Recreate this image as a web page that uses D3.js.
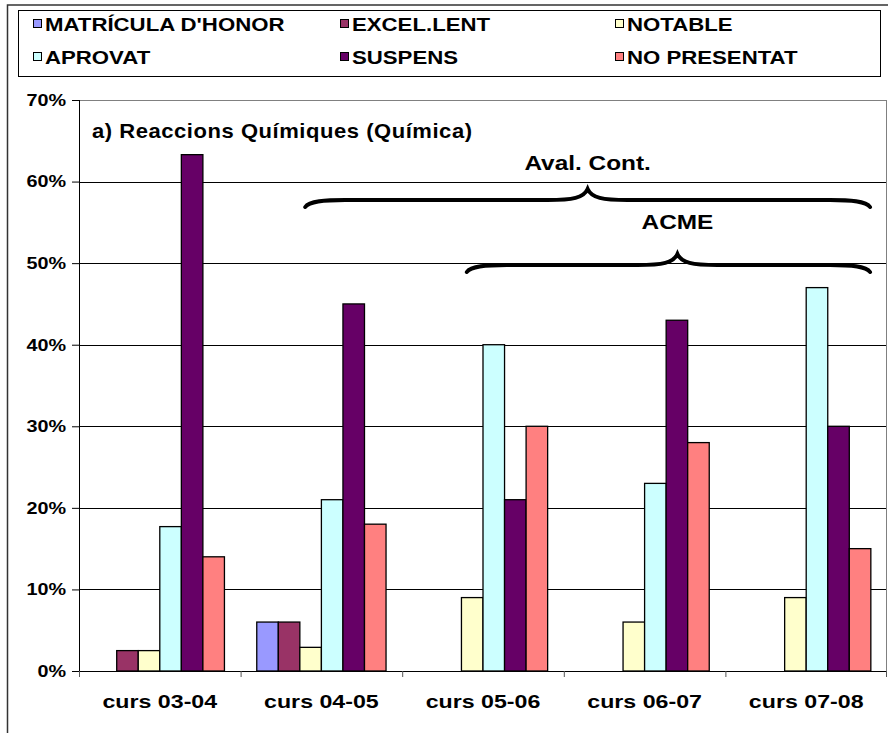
<!DOCTYPE html>
<html><head><meta charset="utf-8">
<script src="https://cdn.jsdelivr.net/npm/d3@7"></script>
<style>body{margin:0;background:#fff}svg{display:block}text{font-family:"Liberation Sans",Arial,sans-serif;font-weight:bold;fill:#000}</style>
</head><body>
<svg id="c" width="888" height="733"></svg>
<script>
const categories = ["curs 03-04","curs 04-05","curs 05-06","curs 06-07","curs 07-08"];
const seriesNames = ["MATRÍCULA D'HONOR","EXCEL.LENT","NOTABLE","APROVAT","SUSPENS","NO PRESENTAT"];
const matricula = [0, 6, 0, 0, 0];
const excellent = [2.5, 6, 0, 0, 0];
const notable   = [2.5, 2.9, 9, 6, 9];
const aprovat   = [17.7, 21, 40, 23, 47];
const suspens   = [63.3, 45, 21, 43, 30];
const noPresentat = [14, 18, 30, 28, 15];
const yTicks = [0,10,20,30,40,50,60,70];
const colors = ["#9999FF","#993366","#FFFFCC","#CCFFFF","#660066","#FF8080"];
const title = "a) Reaccions Químiques (Química)";
const braces = [
  {label:"Aval. Cont.", from:"curs 04-05", to:"curs 07-08"},
  {label:"ACME", from:"curs 05-06", to:"curs 07-08"}
];

const series = [matricula, excellent, notable, aprovat, suspens, noPresentat];
const svg = d3.select("#c");
const L = 79, R = 887, T = 100, B = 671;
const SX = 1.2;
function place(sel, px, py, sx){
  sel.attr("x",0).attr("y",0).attr("transform",`translate(${px},${py}) scale(${sx},1)`);
}

// outer frame
svg.append("rect").attr("x",7.5).attr("y",5).attr("width",900).attr("height",800)
  .attr("fill","none").attr("stroke","#333").attr("stroke-width",1.5);

// legend
svg.append("rect").attr("x",18.5).attr("y",10.5).attr("width",862).attr("height",66)
  .attr("fill","#fff").attr("stroke","#000").attr("stroke-width",1);
const legX = [33, 340, 615], legY = [24, 57];
seriesNames.forEach((n,i)=>{
  const g = svg.append("g").attr("transform",`translate(${legX[i%3]},${legY[Math.floor(i/3)]})`);
  g.append("rect").attr("x",0.5).attr("y",-4.5).attr("width",8).attr("height",8)
    .attr("fill",colors[i]).attr("stroke","#000").attr("stroke-width",1);
  const t = g.append("text").attr("dy","0.36em").attr("font-size",18.5).text(n);
  place(t, 12, 0, SX);
});

const x = d3.scaleBand().domain(categories).range([L,R]).padding(0);
const gapFrac = 1.5/(6+1.5);
const xs = d3.scaleBand().domain(d3.range(6)).range([x.bandwidth()*gapFrac/2, x.bandwidth()*(1-gapFrac/2)]).padding(0);
const y = d3.scaleLinear().domain([0,70]).range([B,T]);

// gridlines
svg.append("g").selectAll("line").data(yTicks.filter(d=>d>0)).join("line")
  .attr("x1",L).attr("x2",R).attr("y1",d=>Math.round(y(d))+0.5).attr("y2",d=>Math.round(y(d))+0.5)
  .attr("stroke",d=>d===70?"#808080":"#000").attr("stroke-width",1);
svg.append("line").attr("x1",R-0.5).attr("x2",R-0.5).attr("y1",T).attr("y2",B).attr("stroke","#808080");

// bars
const groups = svg.append("g").selectAll("g").data(categories).join("g")
  .attr("transform",d=>`translate(${x(d)},0)`);
groups.selectAll("rect").data((c,ci)=>series.map((s,si)=>({si, v:s[ci]}))).join("rect")
  .filter(d=>d.v>0)
  .attr("x",d=>xs(d.si)).attr("width",xs.bandwidth())
  .attr("y",d=>y(d.v)).attr("height",d=>y(0)-y(d.v))
  .attr("fill",d=>colors[d.si]).attr("stroke","#000").attr("stroke-width",1.3);

// axes
const yAxis = svg.append("g").attr("transform",`translate(${L},0)`)
  .call(d3.axisLeft(y).tickValues(yTicks).tickFormat(d=>d+"%").tickSize(7).tickPadding(6));
yAxis.select(".domain").remove();
yAxis.selectAll(".tick text").attr("font-size",16.5).attr("font-family",null).attr("fill","#000")
  .attr("x",0).attr("transform",`translate(-13,0) scale(${SX},1)`);
yAxis.selectAll(".tick line").attr("stroke","#000");
yAxis.append("line").attr("x1",0.5).attr("x2",0.5).attr("y1",T).attr("y2",B+6).attr("stroke","#000");

const xAxis = svg.append("g").attr("transform",`translate(0,${B})`);
xAxis.append("line").attr("x1",L).attr("x2",R).attr("y1",0.5).attr("y2",0.5).attr("stroke","#000");
xAxis.selectAll("line.tk").data(categories.concat([null])).join("line").attr("class","tk")
  .attr("x1",(d,i)=>i<5?x(d)+0.5:R-0.5).attr("x2",(d,i)=>i<5?x(d)+0.5:R-0.5)
  .attr("y1",0).attr("y2",6).attr("stroke","#555");
xAxis.selectAll("text").data(categories).join("text")
  .attr("text-anchor","middle").attr("font-size",19).text(d=>d)
  .each(function(d){ place(d3.select(this), x(d)+x.bandwidth()/2, 37, 1.22); });

// title
const tt = svg.append("text").attr("font-size",20).attr("letter-spacing",0.5).text(title);
place(tt, 92, 138, 1.1);

// braces
function bracePath(x1,x2,yb,xm){
  const h=11, d=7;
  return `M${x1},${yb+d} C${x1+4},${yb+1} ${x1+20},${yb} ${x1+40},${yb}`+
    ` L${xm-40},${yb} C${xm-15},${yb} ${xm-4},${yb-2} ${xm},${yb-h}`+
    ` C${xm+4},${yb-2} ${xm+15},${yb} ${xm+40},${yb}`+
    ` L${x2-40},${yb} C${x2-20},${yb} ${x2-4},${yb+1} ${x2},${yb+d}`;
}
const braceY = [200, 265], labelY = [163, 222], peakShift=[0,9];
braces.forEach((b,i)=>{
  const x1 = x(b.from)+x.bandwidth()*0.4, x2 = x(b.to)+x.bandwidth()*0.895;
  const xm = (x1+x2)/2 + peakShift[i];
  const t = svg.append("text").attr("dy","0.36em")
    .attr("text-anchor","middle").attr("font-size",20).text(b.label);
  place(t, xm, labelY[i], 1.22);
  if(i===0){
    const bb = t.node().getBBox();
    const w = bb.width*1.22;
    svg.insert("rect", function(){return t.node();}).attr("x",xm-w/2-6).attr("y",labelY[i]+bb.y-2).attr("width",w+12).attr("height",bb.height+6).attr("fill","#fff");
  }
  svg.append("path").attr("d",bracePath(x1,x2,braceY[i],xm)).attr("fill","none")
    .attr("stroke","#000").attr("stroke-width",4).attr("stroke-linecap","round");
});
</script>
</body></html>
